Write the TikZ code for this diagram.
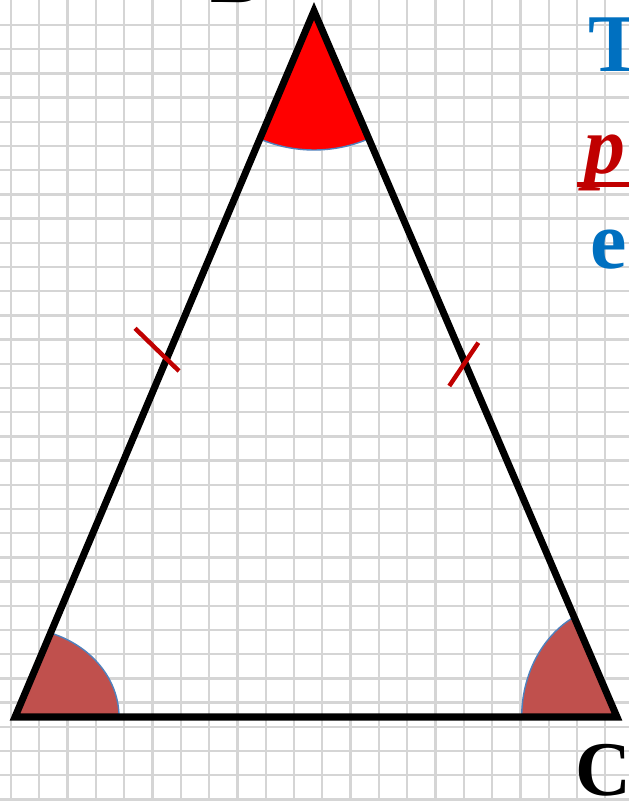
\documentclass[tikz,border=0pt]{standalone}
\usepackage{fontspec}
\setmainfont{Liberation Serif}
\usepackage{xcolor}
\usepackage{tikz}
\usetikzlibrary{
    calc
}

\definecolor{titleblue}{HTML}{0070C0}
\definecolor{termred}{HTML}{C00000}
\definecolor{baseangle}{HTML}{C0504D}
\definecolor{arcblue}{HTML}{4F81BD}

\begin{document}
\begin{tikzpicture}[
        x=0.03cm,
        y=0.03cm,
        gridline/.style={
            draw=gray!33,
            line width=2pt
        },
        side/.style={
            line width=6pt,
            line join=miter
        },
        anglearc/.style={
            draw=arcblue,
            line width=1.2pt
        },
        tickmark/.style={
            draw=termred,
            line width=3.8pt
        },
        slidetext/.style={
            anchor=base west,
            inner sep=0pt,
            font=\fontsize{70}{70}\selectfont\bfseries
        },
        vertexname/.style={
            anchor=base west,
            inner sep=0pt,
            font=\fontsize{66}{66}\selectfont\bfseries
        }
    ]

    \useasboundingbox (0,0) rectangle (629,801);
    \clip (0,0) rectangle (629,801);
    \fill[white] (0,0) rectangle (629,801);

    % squared paper
    \foreach \gx in {0,...,21}
        \draw[gridline] ({11+28.3*\gx},0) -- ({11+28.3*\gx},801);
    \foreach \gy in {0,...,32}
        \draw[gridline] (0,{776-24.2*\gy}) -- (629,{776-24.2*\gy});

    \coordinate (A) at (15,84);
    \coordinate (B) at (314,790);
    \coordinate (C) at (617,84);

    % angle marks
    \fill[red]
        (B) -- ++(247.05:139) coordinate (b1)
        arc[start angle=247.05, end angle=292.77, radius=139] -- cycle;
    \draw[anglearc]
        (b1) arc[start angle=247.05, end angle=292.77, radius=139];

    \fill[baseangle]
        (A) -- ++(104,0) coordinate (a1)
        arc[start angle=0, end angle=70, x radius=104, y radius=89.4] -- cycle;
    \draw[anglearc]
        (a1) arc[start angle=0, end angle=70, x radius=104, y radius=89.4];

    \fill[baseangle]
        (C) -- ++(-95.3,0) coordinate (c1)
        arc[start angle=180, end angle=116.7, x radius=95.3, y radius=112] -- cycle;
    \draw[anglearc]
        (c1) arc[start angle=180, end angle=116.7, x radius=95.3, y radius=112];

    % triangle
    \draw[side] (A) -- (B) -- (C) -- cycle;

    % equal sides
    \draw[tickmark] (135,472.7) -- (179,430);
    \draw[tickmark] (478.3,458.3) -- (449.3,415);

    % vertex names
    \node[vertexname] (nameB) at (210,798.3) {B};
    \node[vertexname] (nameC) at (575,5) {C};

    % text on the right
    \node[slidetext, text=titleblue] (rowone) at (588,729) {T};
    \node[slidetext, text=termred, font=\fontsize{70}{70}\selectfont\bfseries\itshape]
        (rowtwo) at (584,627) {p};
    \draw[termred, line width=4.2pt] (577,616.5) -- (640,616.5);
    \node[slidetext, text=titleblue] (rowthree) at (590,532) {e};

\end{tikzpicture}
\end{document}
